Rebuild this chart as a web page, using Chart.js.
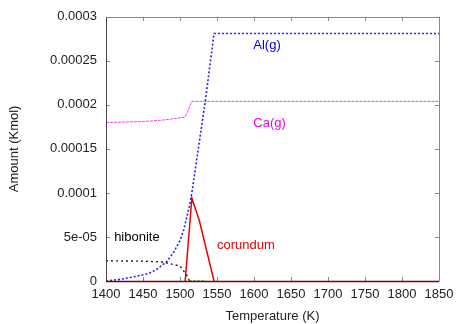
<!DOCTYPE html>
<html>
<head>
<meta charset="utf-8">
<script src="https://cdn.jsdelivr.net/npm/chart.js@4/dist/chart.umd.min.js"></script>
<style>
html,body{margin:0;padding:0;background:#fff;}
#wrap{width:463px;height:324px;}
</style>
</head>
<body>
<div id="wrap"><canvas id="c" width="463" height="324"></canvas></div>
<script>
// ---- data ----
const alT   = [1400, 1420, 1436, 1450, 1459, 1470, 1482, 1491, 1500, 1505, 1509, 1513, 1516, 1534, 1546, 1850];
const alV   = [0, 2e-6, 4.5e-6, 7e-6, 9e-6, 1.4e-5, 2.2e-5, 3.2e-5, 4.6e-5, 5.8e-5, 7.2e-5, 8.6e-5, 1.0e-4, 2.03e-4, 2.81e-4, 2.81e-4];

const caT   = [1400, 1450, 1480, 1507, 1516, 1850];
const caV   = [1.80e-4, 1.81e-4, 1.83e-4, 1.86e-4, 2.04e-4, 2.04e-4];

const hibT  = [1400, 1450, 1477, 1500, 1509, 1513];
const hibV  = [2.3e-5, 2.25e-5, 2.15e-5, 1.7e-5, 6.8e-6, 0];

const corT  = [1507, 1516, 1526, 1546];
const corV  = [0, 9.4e-5, 6.9e-5, 0];

const grnT  = [1513, 1535];
const grnV  = [0, 0];

const xTicks = [1400, 1450, 1500, 1550, 1600, 1650, 1700, 1750, 1800, 1850];
const yTicks = [0, 5e-5, 1e-4, 1.5e-4, 2e-4, 2.5e-4, 3e-4];
const yTickLabels = ["0", "5e-05", "0.0001", "0.00015", "0.0002", "0.00025", "0.0003"];

const labels = [
  {text: "Al(g)",    t: 1599, v: 2.68e-4, color: "#0000ee"},
  {text: "Ca(g)",    t: 1599, v: 1.79e-4, color: "#ee00ee"},
  {text: "hibonite", t: 1411, v: 4.9e-5,  color: "#000000"},
  {text: "corundum", t: 1550, v: 4.0e-5,  color: "#ee0000"}
];

function pts(T, V){ return T.map((t,i)=>({x:t, y:V[i]})); }

const FONT = "'Liberation Sans', Arial, Helvetica, sans-serif";

const framePlugin = {
  id: 'frame',
  afterDatasetsDraw(chart){
    const {ctx, chartArea:a, scales:{x, y}} = chart;
    ctx.save();
    ctx.lineWidth = 1;
    ctx.strokeStyle = '#888';
    const L = 4;
    xTicks.forEach(t=>{
      const px = Math.round(x.getPixelForValue(t)) + 0.5;
      ctx.beginPath();
      ctx.moveTo(px, a.bottom); ctx.lineTo(px, a.bottom - L);
      ctx.moveTo(px, a.top); ctx.lineTo(px, a.top + L);
      ctx.stroke();
    });
    yTicks.forEach(v=>{
      const py = Math.round(y.getPixelForValue(v)) + 0.5;
      ctx.beginPath();
      ctx.moveTo(a.left, py); ctx.lineTo(a.left + L, py);
      ctx.moveTo(a.right, py); ctx.lineTo(a.right - L, py);
      ctx.stroke();
    });
    ctx.strokeStyle = '#888';
    ctx.beginPath();
    ctx.moveTo(Math.round(a.left)+0.5, Math.round(a.top)+0.5);
    ctx.lineTo(Math.round(a.right)+0.5, Math.round(a.top)+0.5);
    ctx.lineTo(Math.round(a.right)+0.5, Math.round(a.bottom)+0.5);
    ctx.stroke();
    ctx.strokeStyle = '#444';
    ctx.beginPath();
    ctx.moveTo(Math.round(a.left)+0.5, Math.round(a.top)+0.5);
    ctx.lineTo(Math.round(a.left)+0.5, Math.round(a.bottom)+0.5);
    ctx.stroke();
    ctx.strokeStyle = '#800000';
    ctx.lineWidth = 1.5;
    ctx.beginPath();
    ctx.moveTo(a.left, Math.round(a.bottom)+0.5);
    ctx.lineTo(a.right, Math.round(a.bottom)+0.5);
    ctx.stroke();
    ctx.font = "13px " + FONT;
    ctx.textAlign = 'left';
    ctx.textBaseline = 'middle';
    labels.forEach(l=>{
      ctx.fillStyle = l.color;
      ctx.fillText(l.text, x.getPixelForValue(l.t), y.getPixelForValue(l.v));
    });
    ctx.restore();
  }
};

new Chart(document.getElementById('c'), {
  type: 'scatter',
  data: {
    datasets: [
      {label: 'Al(g)', data: pts(alT, alV), showLine: true, borderColor: '#2222ee', borderWidth: 1.6, borderDash: [2, 2], pointRadius: 0, tension: 0},
      {label: 'Ca(g)', data: pts(caT, caV), showLine: true, borderColor: '#ee44ee', borderWidth: 1, borderDash: [3, 1], pointRadius: 0, tension: 0},
      {label: 'hibonite', data: pts(hibT, hibV), showLine: true, borderColor: '#222222', borderWidth: 1.4, borderDash: [2, 3], pointRadius: 0, tension: 0},
      {label: 'green', data: pts(grnT, grnV), showLine: true, borderColor: '#00aa00', borderWidth: 1.5, borderDash: [2, 2], pointRadius: 0},
      {label: 'corundum', data: pts(corT, corV), showLine: true, borderColor: '#ee0000', borderWidth: 1.5, pointRadius: 0, tension: 0}
    ]
  },
  options: {
    responsive: false,
    animation: false,
    events: [],
    layout: {padding: {left: 0, top: 16, right: 24, bottom: 0}},
    plugins: {legend: {display: false}, tooltip: {enabled: false}},
    scales: {
      x: {
        type: 'linear', min: 1400, max: 1850,
        afterBuildTicks: s => { s.ticks = xTicks.map(v=>({value:v})); },
        afterFit: s => { s.height = 43; },
        grid: {display: true, drawOnChartArea: false, drawTicks: false},
        border: {display: false},
        ticks: {padding: 6, color: '#222', font: {family: FONT, size: 13}, maxRotation: 0, autoSkip: false,
                callback: v => String(v)},
        title: {display: true, text: 'Temperature (K)', color: '#222', font: {family: FONT, size: 13}, padding: {top: 0, bottom: 0}}
      },
      y: {
        type: 'linear', min: 0, max: 3e-4,
        afterBuildTicks: s => { s.ticks = yTicks.map(v=>({value:v})); },
        afterFit: s => { s.width = 106; },
        grid: {display: true, drawOnChartArea: false, drawTicks: false},
        border: {display: false},
        ticks: {padding: 9, color: '#222', font: {family: FONT, size: 13}, autoSkip: false,
                callback: (v) => { const i = yTicks.findIndex(t => Math.abs(t - v) < 1e-9); return i >= 0 ? yTickLabels[i] : ''; }},
        title: {display: true, text: 'Amount (Kmol)', color: '#222', font: {family: FONT, size: 13}, padding: {top: 7, bottom: 0}}
      }
    }
  },
  plugins: [framePlugin]
});
</script>
</body>
</html>
